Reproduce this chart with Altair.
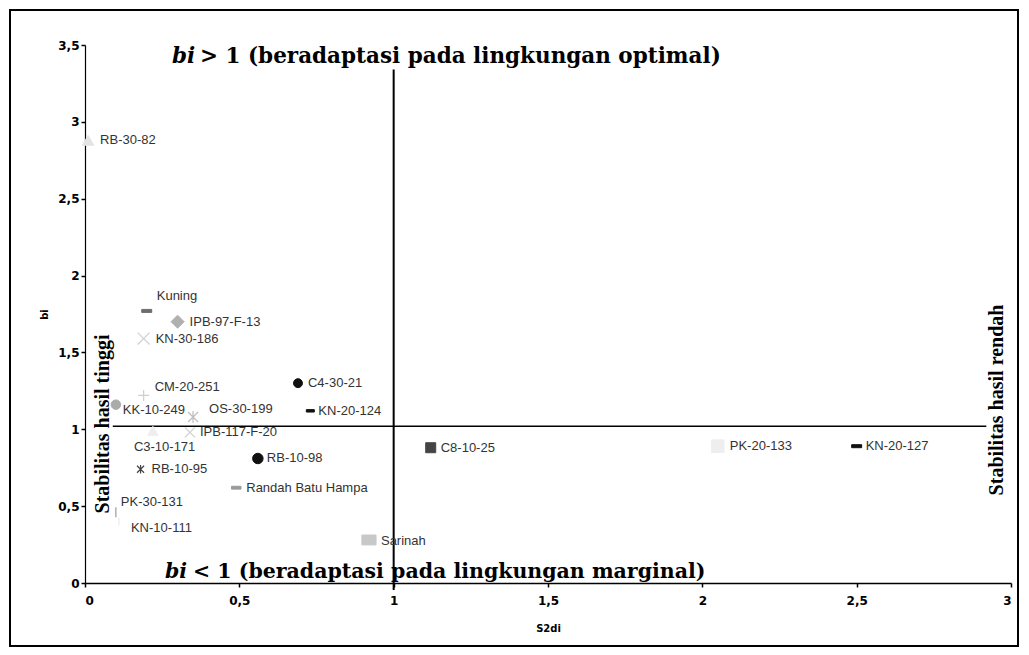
import altair as alt
import pandas as pd

# ---- data ----
genotypes = ["RB-30-82", "Kuning", "IPB-97-F-13", "KN-30-186", "CM-20-251", "KK-10-249",
             "OS-30-199", "C4-30-21", "KN-20-124", "C3-10-171", "IPB-117-F-20", "RB-10-98",
             "RB-10-95", "Randah Batu Hampa", "PK-30-131", "KN-10-111", "Sarinah",
             "C8-10-25", "PK-20-133", "KN-20-127"]
s2di = [0.01, 0.20, 0.30, 0.19, 0.19, 0.10, 0.35, 0.69, 0.73, 0.22, 0.34, 0.56,
        0.18, 0.49, 0.10, 0.11, 0.92, 1.12, 2.05, 2.50]
bi = [2.88, 1.77, 1.70, 1.59, 1.22, 1.16, 1.08, 1.30, 1.12, 0.99, 0.98, 0.81,
      0.74, 0.62, 0.46, 0.40, 0.28, 0.88, 0.89, 0.89]

x_ticks = [0, 0.5, 1, 1.5, 2, 2.5, 3]
y_ticks = [0, 0.5, 1, 1.5, 2, 2.5, 3, 3.5]

# ---- marker styles (shape, size, colour, stroke width, label dx, label dy) ----
DASH = "M-1,-0.3H1V0.3H-1Z"
XMARK = "M-1,-1L1,1M-1,1L1,-1"
PLUS = "M-1,0H1M0,-1V1"
STAR = "M-1,-1L1,1M-1,1L1,-1M0,-1.2V1.2"
VBAR = "M0,-1V1"
RECT = "M-1,-0.7H1V0.7H-1Z"

style = {
    "RB-30-82": ("triangle-up", 130, "#e4e4e4", 1, 12, 0),
    "Kuning": (DASH, 100, "#6e6e6e", 1, 10, -15),
    "IPB-97-F-13": ("diamond", 170, "#b0b0b0", 1, 12, 0),
    "KN-30-186": (XMARK, 140, "#d0d0d0", 1.2, 12, 0),
    "CM-20-251": (PLUS, 120, "#cfcfcf", 1.2, 11, -8),
    "KK-10-249": ("circle", 90, "#ababab", 1, 7, 5),
    "OS-30-199": (STAR, 100, "#bdbdbd", 1.2, 16, -8),
    "C4-30-21": ("circle", 80, "#111111", 1, 10, 0),
    "KN-20-124": (DASH, 64, "#111111", 1, 8, 0),
    "C3-10-171": ("triangle-up", 110, "#eeeeee", 1, -19, 16),
    "IPB-117-F-20": (XMARK, 100, "#cfcfcf", 1.2, 10, 0),
    "RB-10-98": ("circle", 110, "#111111", 1, 9, 0),
    "RB-10-95": (STAR, 50, "#444444", 1.2, 11, 0),
    "Randah Batu Hampa": (DASH, 90, "#9a9a9a", 1, 10, 0),
    "PK-30-131": (VBAR, 100, "#9a9a9a", 1.2, 5, -10),
    "KN-10-111": (VBAR, 60, "#e6e6e6", 1, 12, 6),
    "Sarinah": (RECT, 200, "#c8c8c8", 1, 12, 1),
    "C8-10-25": ("square", 100, "#444444", 1, 10, 0),
    "PK-20-133": ("square", 160, "#eeeeee", 1, 12, 0),
    "KN-20-127": (DASH, 100, "#111111", 1, 9, 0),
}

df = pd.DataFrame({"genotype": genotypes, "s2di": s2di, "bi": bi})
df["shape"] = [style[g][0] for g in genotypes]
df["size"] = [style[g][1] for g in genotypes]
df["color"] = [style[g][2] for g in genotypes]
df["sw"] = [style[g][3] for g in genotypes]

W, H = 926, 538

xscale = alt.Scale(domain=[0, 3], nice=False, zero=False)
yscale = alt.Scale(domain=[0, 3.5], nice=False, zero=False)

label_expr = "replace(format(datum.value, '~g'), '.', ',')"

x_enc = alt.X("s2di:Q", scale=xscale, axis=alt.Axis(
    values=x_ticks, title="S2di", labelExpr=label_expr, grid=False,
    domainColor="black", domainWidth=1.5, tickColor="black", tickSize=4, tickWidth=1.5,
    labelFont="DejaVu Sans", labelFontSize=12, labelFontWeight="bold",
    labelColor="black", labelPadding=8, titleFont="DejaVu Sans",
    titleFontSize=10, titleFontWeight="bold", titlePadding=17))
y_enc = alt.Y("bi:Q", scale=yscale, axis=alt.Axis(
    values=y_ticks, title="bi", labelExpr=label_expr, grid=False,
    domainColor="black", domainWidth=1.2, tickColor="black", tickSize=4, tickWidth=1.5,
    labelFont="DejaVu Sans", labelFontSize=12, labelFontWeight="bold",
    labelColor="black", labelPadding=2, titleFont="DejaVu Sans",
    titleFontSize=10, titleFontWeight="bold", titlePadding=8))

base = alt.Chart(df)

points = base.mark_point(opacity=1, filled=False).encode(
    x=x_enc, y=y_enc,
    shape=alt.Shape("shape:N", scale=None),
    size=alt.Size("size:Q", scale=None),
    fill=alt.Fill("color:N", scale=None),
    stroke=alt.Stroke("color:N", scale=None),
    strokeWidth=alt.StrokeWidth("sw:Q", scale=None),
)

# one label layer per genotype so each can have its own offset
label_layers = []
for g in genotypes:
    dx, dy = style[g][4], style[g][5]
    label_layers.append(
        base.transform_filter(alt.datum.genotype == g).mark_text(
            align="left", baseline="middle", font="Liberation Sans",
            fontSize=13, color="#333333", dx=dx, dy=dy).encode(
            x=alt.X("s2di:Q", scale=xscale),
            y=alt.Y("bi:Q", scale=yscale),
            text="genotype:N",
        )
    )

# reference lines (bi = 1 and S2di = 1)
hline_df = pd.DataFrame({"x": [0.09], "x2": [2.92], "y": [1.02]})
hline = alt.Chart(hline_df).mark_rule(color="black", strokeWidth=1.5).encode(
    x=alt.X("x:Q", scale=xscale), x2="x2:Q", y=alt.Y("y:Q", scale=yscale))
vline_df = pd.DataFrame({"x": [1.0], "y": [-0.045], "y2": [3.34]})
vline = alt.Chart(vline_df).mark_rule(color="black", strokeWidth=2).encode(
    x=alt.X("x:Q", scale=xscale), y=alt.Y("y:Q", scale=yscale), y2="y2:Q")

one = pd.DataFrame({"a": [0]})


def txt(text, px, py, font="Liberation Serif", **kw):
    return alt.Chart(one).mark_text(text=text, font=font,
                                    color="black", fontWeight="bold", **kw).encode(
        x=alt.value(px), y=alt.value(py))


top_bi = txt("bi", 87, 18, font="DejaVu Serif", fontSize=21.5, fontStyle="italic",
             align="left", baseline="alphabetic")
top_rest = txt("> 1 (beradaptasi pada lingkungan optimal)", 115, 18, font="DejaVu Serif",
               fontSize=21.5, align="left", baseline="alphabetic")
bot_bi = txt("bi", 80, 533, font="DejaVu Serif", fontSize=20.5, fontStyle="italic",
             align="left", baseline="alphabetic")
bot_rest = txt("< 1 (beradaptasi pada lingkungan marginal)", 108, 533, font="DejaVu Serif",
               fontSize=20.5, align="left", baseline="alphabetic")
left_txt = txt("Stabilitas hasil tinggi", 18, 379, fontSize=20, angle=270,
               align="center", baseline="middle")
right_txt = txt("Stabilitas hasil rendah", 912, 355, fontSize=20, angle=270,
                align="center", baseline="middle")

border = alt.Chart(one).mark_rect(fill=None, stroke="black", strokeWidth=2).encode(
    x=alt.value(-75), x2=alt.value(933), y=alt.value(-35), y2=alt.value(601))

chart = alt.layer(
    border, hline, vline, points, *label_layers,
    top_bi, top_rest, bot_bi, bot_rest, left_txt, right_txt
).properties(
    width=W, height=H,
    autosize=alt.AutoSizeParams(type="none"),
    padding={"left": 77, "top": 37, "right": 10, "bottom": 64},
    background="white",
).configure_view(stroke=None)

chart.save("out.html", embed_options={"renderer": "svg", "actions": False})
